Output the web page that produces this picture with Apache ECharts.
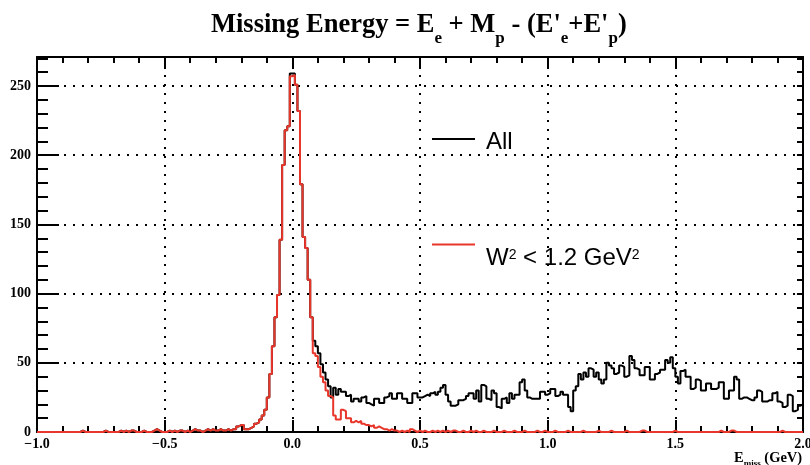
<!DOCTYPE html>
<html>
<head>
<meta charset="utf-8">
<script src="https://cdn.jsdelivr.net/npm/echarts@6/dist/echarts.min.js"></script>
<style>
html,body{margin:0;padding:0;background:#fff;}
#chart{width:810px;height:465px;}
</style>
</head>
<body>
<div id="chart"></div>
<script>
// Histogram binning: 300 bins of width 0.01 GeV from -1.0 to 2.0
const xMin = -1.0;
const binWidth = 0.01;

// Counts per bin, "All" events (black)
const allCounts = [
  0,0,0,0,0,0,0,0,0,0,
  0,0,0,0,0,0,0,1,0,0,
  0,0,0,0,0,0,1,0,0,0,
  0,0,1,0,1,0,1,1,0,0,
  0,1,0,0,0,1,2,1,0,0,
  0,1,0,1,0,1,1,0,1,0,
  1,2,1,1,0,1,2,1,2,1,
  1,2,1,1,2,1,2,2,4,5,
  5,2,2,3,4,6,7,9,12,16,
  25,42,62,83,99,139,193,218,221,259,
  259,251,232,179,141,133,110,83,66,62,
  57,49,43,38,33,25,32,27,31,29,
  29,26,27,22,24,24,22,25,26,21,
  20,19,24,24,21,21,25,26,28,24,
  24,28,28,24,24,21,21,28,28,25,
  25,26,27,26,28,29,27,29,32,34,
  27,22,19,19,20,23,23,24,26,28,
  28,24,30,22,34,33,24,23,30,28,
  18,17,24,25,21,28,24,27,27,36,
  38,30,25,24,24,24,24,29,29,27,
  28,31,31,26,27,29,27,27,18,15,
  30,33,42,38,43,40,46,45,40,43,
  38,35,38,50,48,46,42,43,48,47,
  40,41,55,52,46,45,41,41,47,47,
  38,38,42,43,45,45,52,50,54,46,
  40,35,44,45,40,40,31,32,38,37,
  30,30,35,35,31,31,32,36,36,24,
  24,30,30,40,38,24,25,25,24,23,
  23,25,30,29,22,22,23,23,28,29,
  22,21,18,19,27,26,15,16,19,20
];

// Counts per bin, W^2 < 1.2 GeV^2 (red)
const w2Counts = [
  0,0,0,0,0,0,0,0,0,0,
  0,0,0,0,0,0,0,1,0,0,
  0,0,0,0,0,0,1,0,0,0,
  0,0,1,0,1,0,1,1,0,0,
  0,1,0,0,0,1,2,1,0,0,
  0,1,0,1,0,1,1,0,1,0,
  1,2,1,1,0,1,2,1,2,1,
  1,2,1,1,2,1,2,2,4,5,
  5,2,2,3,4,6,7,9,12,16,
  25,42,62,83,99,139,193,218,221,257,
  258,251,232,179,141,133,110,83,57,55,
  47,40,36,30,26,25,12,9,9,16,
  15,10,10,7,8,7,8,6,5,5,
  4,5,3,4,3,2,2,1,2,1,
  1,0,1,0,1,0,2,1,0,1,
  0,1,0,0,1,0,1,0,1,0,
  1,0,1,1,0,0,1,0,0,1,
  0,1,0,0,1,0,0,0,1,0,
  0,0,1,0,0,0,1,0,0,0,
  1,0,0,0,0,1,0,0,1,0,
  0,0,1,0,0,0,0,1,0,0,
  0,0,0,1,0,0,0,0,0,1,
  0,0,0,0,1,0,0,0,0,0,
  1,0,0,0,0,0,1,1,0,0,
  0,0,0,0,0,0,0,0,0,1,
  0,0,0,0,0,0,0,0,0,0,
  0,0,0,0,0,0,0,1,0,0,
  0,1,1,0,0,0,0,0,0,0,
  0,0,0,0,0,0,0,0,0,0,
  0,1,0,0,0,0,0,0,0,0
];

const seriesNames = ['All', 'W² < 1.2 GeV²'];
const yTicksMajor = 50;
const yTicksMinor = 10;
const yMax = 271;
const xMax = 2.0;
const xTick = 0.5;

function toSteps(counts) {
  const pts = counts.map((c, i) => [+(xMin + i * binWidth).toFixed(4), c]);
  pts.push([+(xMin + counts.length * binWidth).toFixed(4), counts[counts.length - 1]]);
  return pts;
}

const SERIF = '"Liberation Serif", "Times New Roman", serif';
const SANS = '"Liberation Sans", Arial, Helvetica, sans-serif';
const dotted = { type: [2, 7], width: 2, color: '#000' };

const chart = echarts.init(document.getElementById('chart'), null, { renderer: 'canvas' });

const xCommon = {
  type: 'value', min: xMin, max: xMax, interval: xTick,
  axisLine: { show: true, onZero: false, lineStyle: { color: '#000', width: 2 } },
  axisTick: { show: true, inside: true, length: 12, lineStyle: { color: '#000', width: 2 } },
  minorTick: { show: true, splitNumber: 5, length: 6, lineStyle: { color: '#000', width: 2 } }
};

const legendRich = {
  n: { fontFamily: SANS, fontSize: 24, color: '#000' },
  sup: { fontFamily: SANS, fontSize: 14, color: '#000', padding: [0, 0, 5, 0] }
};
function legendFormatter(name) {
  if (name === seriesNames[1]) return '{n|W}{sup|2}{n| < 1.2 GeV}{sup|2}';
  return '{n|' + name + '}';
}

chart.setOption({
  animation: false,
  backgroundColor: '#fff',
  title: [
    {
      text: '{t|Missing Energy = E}{s|e}{t| + M}{s|p}{t| - (E\'}{s|e}{t|+E\'}{s|p}{t|)}',
      left: 206, top: -1,
      textStyle: {
        rich: {
          t: { fontFamily: SERIF, fontWeight: 'bold', fontSize: 26.5, color: '#000' },
          s: { fontFamily: SERIF, fontWeight: 'bold', fontSize: 17, color: '#000', padding: [26, 0, 0, 0] }
        }
      }
    },
    {
      text: '{t|E}{s|miss}{t| (GeV)}',
      left: 729, top: 444,
      textStyle: {
        rich: {
          t: { fontFamily: SERIF, fontWeight: 'bold', fontSize: 14.5, color: '#000' },
          s: { fontFamily: SERIF, fontWeight: 'bold', fontSize: 9, color: '#000', padding: [10, 0, 0, 0] }
        }
      }
    }
  ],
  legend: [
    {
      data: [seriesNames[0]], left: 427, top: 125.5, orient: 'vertical',
      icon: 'rect', itemWidth: 43, itemHeight: 2, itemGap: 0,
      formatter: legendFormatter,
      textStyle: { fontFamily: SANS, fontSize: 24, color: '#000', padding: [7, 0, 0, 6], rich: legendRich }
    },
    {
      data: [seriesNames[1]], left: 427, top: 238.5, orient: 'vertical',
      icon: 'rect', itemWidth: 43, itemHeight: 2, itemGap: 0,
      formatter: legendFormatter,
      textStyle: { fontFamily: SANS, fontSize: 24, color: '#000', padding: [27, 0, 0, 6], rich: legendRich }
    }
  ],
  grid: { left: 37, right: 7, top: 57, bottom: 33, containLabel: false, outerBoundsMode: 'none' },
  xAxis: [
    Object.assign({}, xCommon, {
      position: 'bottom',
      axisLabel: {
        show: true, margin: 5, fontFamily: SERIF, fontWeight: 'bold', fontSize: 14, color: '#000',
        formatter: v => v.toFixed(1).replace('-', '\u2212')
      },
      splitLine: { show: true, lineStyle: dotted }
    }),
    Object.assign({}, xCommon, {
      position: 'top',
      axisLabel: { show: false },
      splitLine: { show: false }
    })
  ],
  yAxis: [
    {
      type: 'value', position: 'left', min: 0, max: yMax, interval: yTicksMajor,
      axisLine: { show: true, onZero: false, lineStyle: { color: '#000', width: 2 } },
      axisTick: { show: true, inside: true, length: 22, lineStyle: { color: '#000', width: 2 } },
      axisLabel: { show: true, showMaxLabel: false, margin: 6, fontFamily: SERIF, fontWeight: 'bold', fontSize: 14, color: '#000' },
      splitLine: { show: true, lineStyle: dotted }
    },
    {
      type: 'value', position: 'left', offset: 0, min: 0, max: yMax, interval: yTicksMinor,
      axisLine: { show: false, onZero: false },
      axisTick: { show: true, inside: true, length: 11, lineStyle: { color: '#000', width: 2 } },
      axisLabel: { show: false },
      splitLine: { show: false }
    },
    {
      type: 'value', position: 'right', offset: 0, min: 0, max: yMax, interval: yTicksMinor,
      axisLine: { show: true, onZero: false, lineStyle: { color: '#000', width: 2 } },
      axisTick: { show: true, inside: true, length: 6, lineStyle: { color: '#000', width: 2 } },
      axisLabel: { show: false },
      splitLine: { show: false }
    }
  ],
  series: [
    {
      name: seriesNames[0], type: 'line', step: 'end', data: toSteps(allCounts),
      xAxisIndex: 0, yAxisIndex: 0,
      showSymbol: false, symbol: 'none',
      lineStyle: { color: '#000', width: 2 }, itemStyle: { color: '#000' }
    },
    {
      name: seriesNames[1], type: 'line', step: 'end', data: toSteps(w2Counts),
      xAxisIndex: 0, yAxisIndex: 0,
      showSymbol: false, symbol: 'none',
      lineStyle: { color: '#e8362b', width: 2 }, itemStyle: { color: '#e8362b' }
    }
  ]
});
</script>
</body>
</html>
